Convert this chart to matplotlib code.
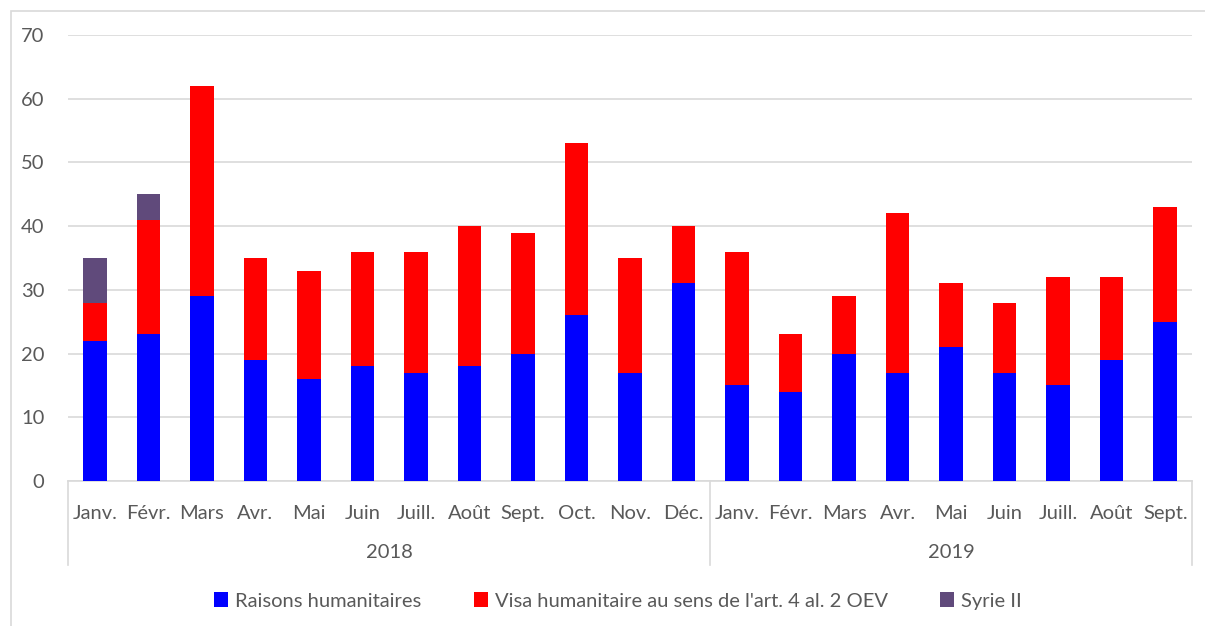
import matplotlib
matplotlib.use("Agg")
import matplotlib.pyplot as plt
from matplotlib.patches import Rectangle
from matplotlib.lines import Line2D
import numpy as np

plt.rcParams['font.family'] = ['Lato', 'DejaVu Sans']

# donnees
mois_2018 = ['Janv.', 'Févr.', 'Mars', 'Avr.', 'Mai', 'Juin', 'Juill.', 'Août', 'Sept.', 'Oct.', 'Nov.', 'Déc.']
mois_2019 = ['Janv.', 'Févr.', 'Mars', 'Avr.', 'Mai', 'Juin', 'Juill.', 'Août', 'Sept.']
annees = ['2018', '2019']

raisons_hum = [22, 23, 29, 19, 16, 18, 17, 18, 20, 26, 17, 31,
               15, 14, 20, 17, 21, 17, 15, 19, 25]
visa_hum = [6, 18, 33, 16, 17, 18, 19, 22, 19, 27, 18, 9,
            21, 9, 9, 25, 10, 11, 17, 13, 18]
syrie_2 = [7, 4, 0, 0, 0, 0, 0, 0, 0, 0, 0, 0,
           0, 0, 0, 0, 0, 0, 0, 0, 0]

labels = mois_2018 + mois_2019
x = np.arange(len(labels))
gris = '#595959'
grille = '#d9d9d9'
fs = 14.5

W, H = 1205, 626
fig = plt.figure(figsize=(W / 100, H / 100), dpi=100)
ax = fig.add_axes([68 / W, 1 - 481 / H, (1192 - 68) / W, (481 - 35) / H])

b = np.array(raisons_hum)
r = np.array(visa_hum)
ax.bar(x, b, width=0.44, color='#0000ff', label='Raisons humanitaires', zorder=3)
ax.bar(x, r, width=0.44, bottom=b, color='#ff0000',
       label="Visa humanitaire au sens de l'art. 4 al. 2 OEV", zorder=3)
ax.bar(x, syrie_2, width=0.44, bottom=b + r, color='#604a7b', label='Syrie II', zorder=3)

ax.set_xlim(-0.5, len(labels) - 0.5)
ax.set_ylim(0, 70)
ax.set_yticks(range(0, 71, 10))
ax.yaxis.grid(True, color=grille, linewidth=1.2, zorder=0)
ax.set_axisbelow(True)
for s in ['top', 'right', 'left']:
    ax.spines[s].set_visible(False)
ax.spines['bottom'].set_color(grille)
ax.spines['bottom'].set_linewidth(1.2)
ax.tick_params(axis='y', length=0, pad=17, labelsize=fs, labelcolor=gris)
ax.set_xticks(x)
ax.set_xticklabels(labels)
ax.tick_params(axis='x', length=0, pad=17, labelsize=fs, labelcolor=gris)

# annees et separateurs
fig.text((68 + 710) / 2 / W, 1 - 552 / H, annees[0], ha='center', va='center', fontsize=fs, color=gris)
fig.text((710 + 1192) / 2 / W, 1 - 552 / H, annees[1], ha='center', va='center', fontsize=fs, color=gris)
for xs in [68, 710, 1192]:
    fig.add_artist(Line2D([xs / W, xs / W], [1 - 481 / H, 1 - 565 / H], color=grille, linewidth=1.2))

# cadre
fig.add_artist(Rectangle((11 / W, -0.1), 1.2, 1 - 11 / H + 0.1, fill=False, edgecolor=grille, linewidth=1.2))

handles, lbls = ax.get_legend_handles_labels()
fig.legend(handles, lbls, loc='center', bbox_to_anchor=(618 / W, 1 - 601 / H), ncol=3,
           frameon=False, fontsize=fs, labelcolor=gris, handlelength=0.7, handleheight=0.7,
           handletextpad=0.35, columnspacing=2.6)

fig.savefig('out.png', dpi=100)
